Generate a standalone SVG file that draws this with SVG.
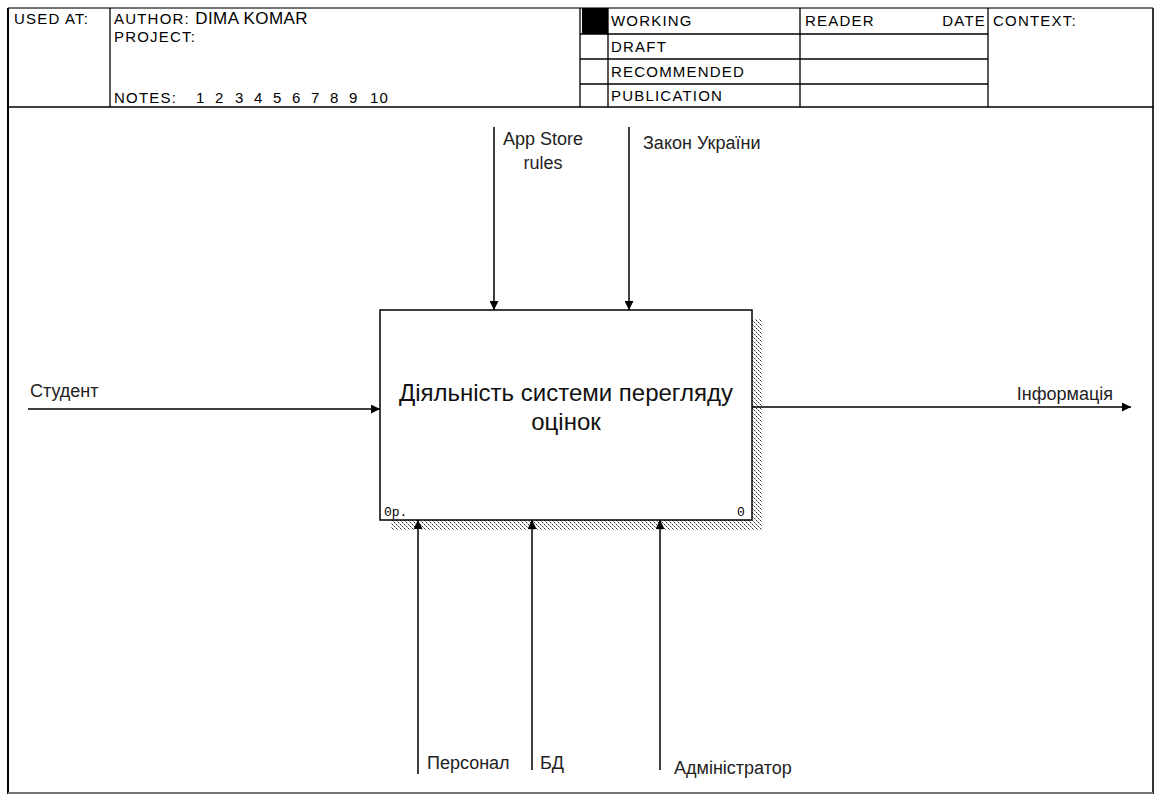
<svg xmlns="http://www.w3.org/2000/svg" width="1160" height="796" viewBox="0 0 1160 796">
<style>
.hdr{font-family:"Liberation Sans",Arial,sans-serif;font-size:15px;letter-spacing:1.2px;fill:#000}
.lbl{font-family:"Liberation Sans",Arial,sans-serif;font-size:18px;fill:#222}
.title{font-family:"Liberation Sans",Arial,sans-serif;font-size:24px;fill:#111}
.num{font-family:"Liberation Mono","DejaVu Sans Mono",monospace;font-size:13px;fill:#000}
.ln{stroke:#000;stroke-width:1.3;fill:none}
.arr{stroke:#000;stroke-width:1.5;fill:none;marker-end:url(#ah)}
</style>
<defs>
<marker id="ah" viewBox="0 0 10 10" refX="10" refY="5" markerWidth="9" markerHeight="9" markerUnits="userSpaceOnUse" orient="auto">
<path d="M0,0 L10,5 L0,10 z" fill="#000"/>
</marker>
<pattern id="hatch" width="4" height="4" patternUnits="userSpaceOnUse">
<rect width="4" height="4" fill="#fff"/>
<rect x="0" y="0" width="1" height="1" fill="#333"/>
<rect x="2" y="2" width="1" height="1" fill="#333"/>
<rect x="1" y="1" width="1" height="1" fill="#999"/>
<rect x="3" y="3" width="1" height="1" fill="#999"/>
</pattern>
</defs>
<rect width="1160" height="796" fill="#fff"/>
<g id="frame">
<line x1="8" y1="8" x2="1153" y2="8" stroke="#444" stroke-width="1.5"/>
<line x1="8" y1="8" x2="8" y2="794" stroke="#000" stroke-width="2"/>
<line x1="1153" y1="8" x2="1153" y2="794" stroke="#333" stroke-width="2"/>
<line x1="8" y1="793" x2="1153" y2="793" stroke="#777" stroke-width="2"/>
<line x1="8" y1="107" x2="1153" y2="107" class="ln"/>
<line x1="110" y1="8" x2="110" y2="107" class="ln"/>
<line x1="580" y1="8" x2="580" y2="107" class="ln"/>
<line x1="608" y1="8" x2="608" y2="107" class="ln"/>
<line x1="800" y1="8" x2="800" y2="107" class="ln"/>
<line x1="988" y1="8" x2="988" y2="107" class="ln"/>
<line x1="580" y1="34" x2="988" y2="34" class="ln"/>
<line x1="580" y1="59" x2="988" y2="59" class="ln"/>
<line x1="580" y1="84" x2="988" y2="84" class="ln"/>
<rect x="582" y="8" width="26" height="26" fill="#000"/>
<text x="14" y="24" class="hdr">USED AT:</text>
<text x="114" y="24" class="hdr">AUTHOR: <tspan style="font-size:17px;letter-spacing:0.4px">DIMA KOMAR</tspan></text>
<text x="114" y="42" class="hdr">PROJECT:</text>
<text x="114" y="103" class="hdr">NOTES:</text>
<text y="103" class="hdr"><tspan x="196">1</tspan><tspan x="215">2</tspan><tspan x="235">3</tspan><tspan x="254">4</tspan><tspan x="273">5</tspan><tspan x="292">6</tspan><tspan x="311">7</tspan><tspan x="330">8</tspan><tspan x="349">9</tspan><tspan x="370">10</tspan></text>
<text x="611" y="26" class="hdr">WORKING</text>
<text x="611" y="52" class="hdr">DRAFT</text>
<text x="611" y="77" class="hdr">RECOMMENDED</text>
<text x="611" y="101" class="hdr">PUBLICATION</text>
<text x="805" y="26" class="hdr">READER</text>
<text x="986" y="26" class="hdr" text-anchor="end">DATE</text>
<text x="993" y="26" class="hdr">CONTEXT:</text>
</g>
<g id="node-A0">
<rect x="752" y="319" width="10" height="211" fill="url(#hatch)"/>
<rect x="391" y="520" width="371" height="10" fill="url(#hatch)"/>
<rect x="380" y="310" width="372" height="210" fill="#fff" stroke="#000" stroke-width="1.5"/>
<text x="566" y="401" class="title" text-anchor="middle">Діяльність системи перегляду</text>
<text x="566" y="430" class="title" text-anchor="middle">оцінок</text>
<text x="384" y="516" class="num">0р.</text>
<text x="737" y="516" class="num">0</text>
</g>
<g id="connectors">
<line x1="494" y1="127" x2="494" y2="310" class="arr"/>
<line x1="629" y1="127" x2="629" y2="310" class="arr"/>
<line x1="28" y1="409" x2="380" y2="409" class="arr"/>
<line x1="752" y1="407" x2="1131" y2="407" class="arr"/>
<line x1="418" y1="774" x2="418" y2="520" class="arr"/>
<line x1="532" y1="770" x2="532" y2="520" class="arr"/>
<line x1="660" y1="770" x2="660" y2="520" class="arr"/>
</g>
<g id="labels">
<text x="543" y="145" class="lbl" text-anchor="middle">App Store</text>
<text x="543" y="169" class="lbl" text-anchor="middle">rules</text>
<text x="643" y="149" class="lbl">Закон України</text>
<text x="30" y="397" class="lbl">Студент</text>
<text x="1113" y="400" class="lbl" text-anchor="end">Інформація</text>
<text x="427" y="769" class="lbl">Персонал</text>
<text x="540" y="769" class="lbl">БД</text>
<text x="674" y="774" class="lbl">Адміністратор</text>
</g>
</svg>
